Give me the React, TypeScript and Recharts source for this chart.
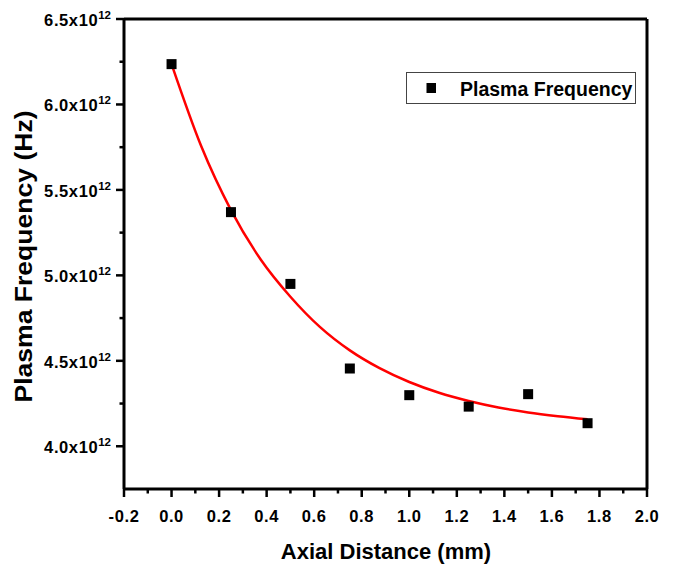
import React from "react";
import {
  ComposedChart,
  XAxis,
  YAxis,
  Scatter,
  Line,
  ReferenceLine,
  Customized,
} from "recharts";

// Measured points
const distances = [0, 0.25, 0.5, 0.75, 1.0, 1.25, 1.5, 1.75];
const frequencies = [6.236e12, 5.37e12, 4.95e12, 4.455e12, 4.299e12, 4.232e12, 4.305e12, 4.135e12];

// Fit curve
const fitDistances = [0, 0.125, 0.25, 0.375, 0.5, 0.625, 0.75, 0.875, 1.0, 1.125, 1.25, 1.375, 1.5, 1.625, 1.75];
const fitFrequencies = [
  6.236e12, 5.755e12, 5.382e12, 5.093e12, 4.875e12, 4.697e12, 4.561e12, 4.457e12,
  4.376e12, 4.313e12, 4.265e12, 4.227e12, 4.198e12, 4.176e12, 4.158e12,
];

// Axis ticks
const xMajorTicks = [-0.2, 0.0, 0.2, 0.4, 0.6, 0.8, 1.0, 1.2, 1.4, 1.6, 1.8, 2.0];
const xMinorTicks = [-0.1, 0.1, 0.3, 0.5, 0.7, 0.9, 1.1, 1.3, 1.5, 1.7, 1.9];
const yMajorTicks = [4.0e12, 4.5e12, 5.0e12, 5.5e12, 6.0e12, 6.5e12];
const yMinorTicks = [4.25e12, 4.75e12, 5.25e12, 5.75e12, 6.25e12];

const xLabel = "Axial Distance (mm)";
const yLabel = "Plasma Frequency (Hz)";
const seriesName = "Plasma Frequency";

const points = distances.map((x, i) => ({ x, y: frequencies[i] }));
const fit = fitDistances.map((x, i) => ({ x, fit: fitFrequencies[i] }));

const FONT = "'Liberation Sans', Arial, Helvetica, sans-serif";

const isMajor = (v: number, majors: number[]) =>
  majors.some((m) => Math.abs(m - v) < 1e-9 * Math.max(1, Math.abs(m)));

const XTick = (props: any) => {
  const { x, y, payload } = props;
  const v = payload.value as number;
  const major = isMajor(v, xMajorTicks);
  return (
    <g>
      <line x1={x} y1={y} x2={x} y2={y + (major ? 8 : 4.5)} stroke="#000" strokeWidth={2.5} />
      {major && (
        <text
          x={x}
          y={y + 33}
          textAnchor="middle"
          fontFamily={FONT}
          fontWeight="bold"
          fontSize={16.5}
          letterSpacing={0.6}
          fill="#000"
        >
          {v.toFixed(1)}
        </text>
      )}
    </g>
  );
};

const YTick = (props: any) => {
  const { x, y, payload } = props;
  const v = payload.value as number;
  const major = isMajor(v, yMajorTicks);
  return (
    <g>
      <line x1={x} y1={y} x2={x - (major ? 8 : 4.5)} y2={y} stroke="#000" strokeWidth={2.5} />
      {major && (
        <text
          x={x - 13}
          y={y + 7}
          textAnchor="end"
          fontFamily={FONT}
          fontWeight="bold"
          fontSize={16.5}
          fill="#000"
        >
          <tspan letterSpacing={0.6}>{(v / 1e12).toFixed(1)}x10</tspan>
          <tspan fontSize={11.5} dy={-7}>12</tspan>
        </text>
      )}
    </g>
  );
};

const SquareShape = (props: any) => {
  const { cx, cy } = props;
  if (cx == null || cy == null) return null;
  return <rect x={cx - 5} y={cy - 5} width={10} height={10} fill="#000" />;
};

const Decorations = () => (
  <g>
    <text
      x={32}
      y={256.5}
      transform="rotate(-90, 32, 256.5)"
      textAnchor="middle"
      fontFamily={FONT}
      fontWeight="bold"
      fontSize={23}
      textLength={292}
      lengthAdjust="spacingAndGlyphs"
      fill="#000"
    >
      {yLabel}
    </text>
    <text
      x={386}
      y={559}
      textAnchor="middle"
      fontFamily={FONT}
      fontWeight="bold"
      fontSize={22}
      fill="#000"
    >
      {xLabel}
    </text>
    <rect x={406.5} y={72.5} width={229} height={31} fill="#fff" stroke="#444" strokeWidth={1} />
    <rect x={426.5} y={83} width={9.5} height={10} fill="#000" />
    <text x={460} y={96} fontFamily={FONT} fontWeight="bold" fontSize={19.5} fill="#000">
      {seriesName}
    </text>
  </g>
);

export default function App() {
  return (
    <div style={{ position: "absolute", left: 0, top: 0, background: "#fff" }}>
      <ComposedChart
        width={675}
        height={564}
        margin={{ top: 19, right: 28, left: 0, bottom: 0 }}
      >
        <XAxis
          dataKey="x"
          type="number"
          domain={[-0.2, 2.0]}
          ticks={[...xMajorTicks, ...xMinorTicks].sort((a, b) => a - b)}
          interval={0}
          height={75}
          tickSize={0}
          tickMargin={0}
          tickLine={false}
          tick={<XTick />}
          axisLine={{ stroke: "#000", strokeWidth: 3 }}
          allowDataOverflow
        />
        <YAxis
          type="number"
          domain={[3.75e12, 6.5e12]}
          ticks={[...yMajorTicks, ...yMinorTicks].sort((a, b) => a - b)}
          interval={0}
          width={124}
          tickSize={0}
          tickMargin={0}
          tickLine={false}
          tick={<YTick />}
          axisLine={{ stroke: "#000", strokeWidth: 3 }}
          allowDataOverflow
        />
        <ReferenceLine y={6.5e12} stroke="#000" strokeWidth={3} />
        <ReferenceLine x={2.0} stroke="#000" strokeWidth={3} />
        <Scatter
          data={points}
          dataKey="y"
          name={seriesName}
          shape={<SquareShape />}
          isAnimationActive={false}
        />
        <Line
          data={fit}
          dataKey="fit"
          type="monotone"
          stroke="#ff0000"
          strokeWidth={2.5}
          dot={false}
          activeDot={false}
          isAnimationActive={false}
          legendType="none"
        />
        <Customized component={Decorations} />
      </ComposedChart>
    </div>
  );
}
